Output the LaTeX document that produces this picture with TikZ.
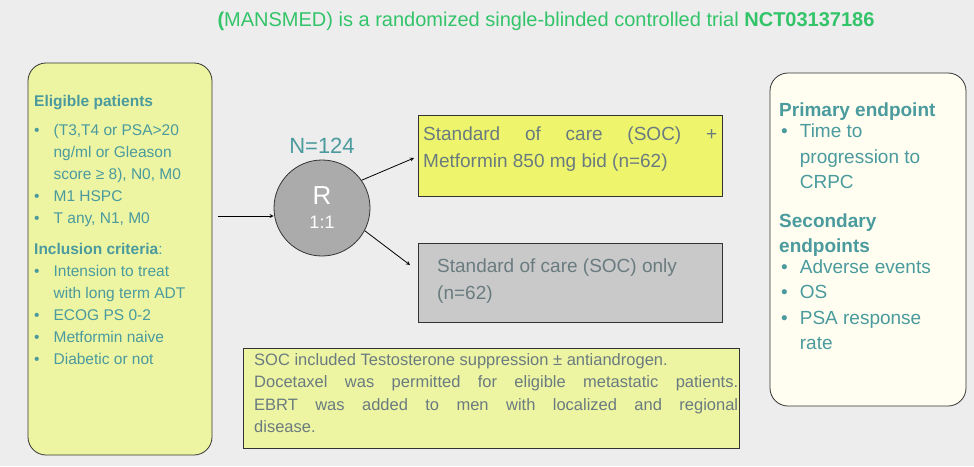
\documentclass[tikz,border=0pt]{standalone}
\usepackage{fontspec}
\setmainfont{Liberation Sans}
\usetikzlibrary{positioning}
\usetikzlibrary{arrows}
\definecolor{slide}{HTML}{EDEDED}
\definecolor{teal}{HTML}{4A9A9E}
\definecolor{titlegreen}{HTML}{33C46A}
\definecolor{paleyellow}{HTML}{EEF5A2}
\definecolor{brightyellow}{HTML}{EEF56C}
\definecolor{boxgray}{HTML}{C9C9C9}
\definecolor{textgray}{HTML}{6A7B80}
\newcommand{\spreadline}[2]{\makebox[#1][s]{#2}}
\tikzset{
    % arrow shape used throughout
    >=stealth,
%
    % Rounded panels at the two sides
    side panel/.style={draw=black!80, thick, rounded corners=18pt},
%
    % Arm boxes and the note box
    arm box/.style={draw=black!80, thick, rectangle, inner sep=0pt},
    arm text/.style={text=textgray, font=\fontsize{19}{27}\selectfont,
        align=left, anchor=north west, inner sep=0pt},
    % Bullet lists in the panels
    panel text/.style={text=teal, align=left, anchor=north west, inner sep=0pt}}

\begin{document}
\begin{tikzpicture}[x=1pt, y=-1pt]

\path[fill=slide, use as bounding box] (0,0) rectangle (974,466);

\node (title) [anchor=center, font=\fontsize{20}{22}\selectfont, text=titlegreen]
    at (546,21) {\textbf{(}MANSMED) is a randomized single-blinded controlled trial \textbf{NCT03137186}};

% left panel
\path[side panel, fill=paleyellow] (28,63) rectangle (212,455);
\node (elig) [panel text, font=\fontsize{15.5}{22}\selectfont] at (34,95)
    {\textbf{Eligible patients}\\[9pt]
     \begin{tabular}{@{}l@{\hspace{14pt}}l@{}}
     • & (T3,T4 or PSA>20\\
               & ng/ml or Gleason\\
               & score ≥ 8), N0, M0\\
     • & M1 HSPC\\
     • & T any, N1, M0\\[9pt]
     \multicolumn{2}{@{}l}{\textbf{Inclusion criteria}:}\\
     • & Intension to treat\\
               & with long term ADT\\
     • & ECOG PS 0-2\\
     • & Metformin naive\\
     • & Diabetic or not
     \end{tabular}};

% randomisation
\node (rand) [circle, draw=black!80, thick, fill=black!33, minimum size=96pt,
    text=white, align=center, font=\fontsize{18}{24}\selectfont] at (322,208)
    {{\fontsize{26}{28}\selectfont R}\\1:1};
\node (n) [above=3pt of rand, text=teal, font=\fontsize{22}{24}\selectfont] {N=124};

\coordinate (from) at (218,216);
\draw[->, thick] (from) -- (from -| rand.west);

% arms
\path[arm box, fill=brightyellow] (418,115) rectangle (722,196);
\node (soc met) [arm text] at (423,127)
    {\spreadline{294pt}{Standard of care (SOC) +}\\Metformin 850 mg bid (n=62)};
\path[arm box, fill=boxgray] (418,243) rectangle (722,322);
\node (soc) [arm text] at (437,259)
    {Standard of care (SOC) only\\(n=62)};
\coordinate (arm1) at (414,158);
\coordinate (arm2) at (410,265);
\draw[->, thick] (rand.35) -- (arm1);
\draw[->, thick] (rand.-28) -- (arm2);

% note
\path[arm box, fill=paleyellow] (243,348) rectangle (739,448);
\node (note) [arm text, font=\fontsize{16.5}{22.5}\selectfont] at (254,353)
    {SOC included Testosterone suppression ± antiandrogen.\\
     \spreadline{484pt}{Docetaxel was permitted for eligible metastatic patients.}\\
     \spreadline{484pt}{EBRT was added to men with localized and regional}\\
     disease.};

% right panel
\path[side panel, fill=yellow!6] (770,73) rectangle (966,406);
\node (ends) [panel text, font=\fontsize{19}{25.5}\selectfont] at (779,103)
    {\textbf{Primary endpoint}\\[-2pt]
     \begin{tabular}{@{\hspace{2pt}}l@{\hspace{12pt}}l@{}}
     • & Time to\\
               & progression to\\
               & CRPC
     \end{tabular}\\[16pt]
     \textbf{Secondary}\\
     \textbf{endpoints}\\[-2pt]
     \begin{tabular}{@{\hspace{2pt}}l@{\hspace{12pt}}l@{}}
     • & Adverse events\\
     • & OS\\
     • & PSA response\\
               & rate
     \end{tabular}};

\end{tikzpicture}
\end{document}
